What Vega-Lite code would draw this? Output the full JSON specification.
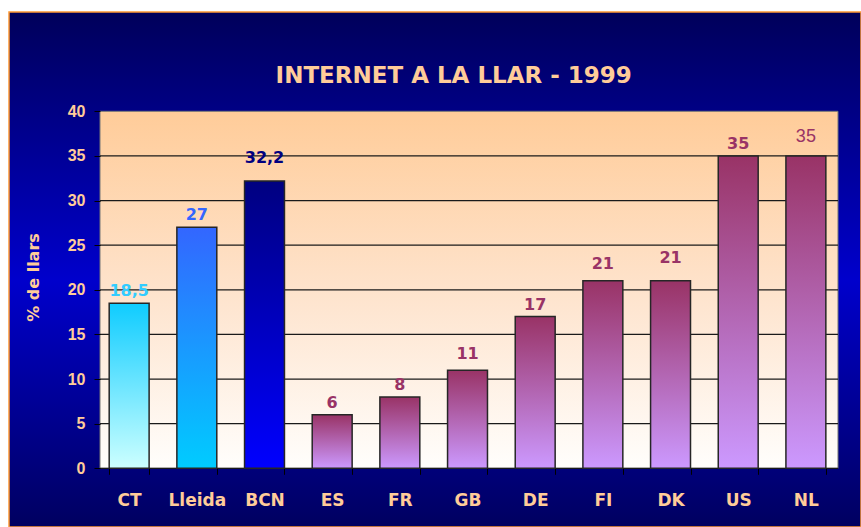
{
  "$schema": "https://vega.github.io/schema/vega-lite/v6.json",
  "width": 852,
  "height": 515,
  "autosize": {"type": "none"},
  "padding": {"left": 9, "top": 12, "right": 0, "bottom": 0},
  "background": "white",
  "view": {
    "fill": {"gradient": "linear", "x1": 0, "y1": 0, "x2": 0, "y2": 1,
      "stops": [{"offset": 0, "color": "#00005a"}, {"offset": 0.52, "color": "#0000cc"}, {"offset": 1, "color": "#000060"}]},
    "stroke": "#ff9933",
    "strokeWidth": 1.5
  },
  "title": {
    "text": "INTERNET A LA LLAR - 1999",
    "font": "DejaVu Sans",
    "fontSize": 23,
    "fontWeight": "bold",
    "color": "#ffcc99",
    "anchor": "middle",
    "frame": "group",
    "baseline": "alphabetic",
    "offset": -93.5,
    "dx": 18.7
  },
  "datasets": {
    "dades": [
      {"regio": "CT", "valor": 18.5, "etiqueta": "18,5"},
      {"regio": "Lleida", "valor": 27, "etiqueta": "27"},
      {"regio": "BCN", "valor": 32.2, "etiqueta": "32,2"},
      {"regio": "ES", "valor": 6, "etiqueta": "6"},
      {"regio": "FR", "valor": 8, "etiqueta": "8"},
      {"regio": "GB", "valor": 11, "etiqueta": "11"},
      {"regio": "DE", "valor": 17, "etiqueta": "17"},
      {"regio": "FI", "valor": 21, "etiqueta": "21"},
      {"regio": "DK", "valor": 21, "etiqueta": "21"},
      {"regio": "US", "valor": 35, "etiqueta": "35"},
      {"regio": "NL", "valor": 35, "etiqueta": "35"}
    ],
    "graella": [
      {"v": 0}, {"v": 5}, {"v": 10}, {"v": 15}, {"v": 20}, {"v": 25}, {"v": 30}, {"v": 35}
    ],
    "area": [{"zona": "plot"}]
  },
  "resolve": {"scale": {"x": "independent"}},
  "layer": [
    {
      "layer": [
        {
          "data": {"name": "area"},
          "mark": {"type": "rect", "stroke": "#777777", "strokeWidth": 1,
            "fill": {"gradient": "linear", "x1": 0, "y1": 0, "x2": 0, "y2": 1,
              "stops": [{"offset": 0, "color": "#ffcc99"}, {"offset": 0.5, "color": "#fee3cc"}, {"offset": 1, "color": "#fffefc"}]}},
          "encoding": {
            "x": {"datum": 0, "type": "quantitative", "scale": {"domain": [-0.12331, 1.03117], "nice": false, "zero": false}, "axis": null},
            "x2": {"datum": 1},
            "y": {"datum": 0, "type": "quantitative",
              "scale": {"domain": [-6.577, 51.126], "nice": false, "zero": false},
              "axis": {"title": "% de llars", "orient": "left", "values": [0, 5, 10, 15, 20, 25, 30, 35, 40], "format": "d", "offset": -91, "domain": false, "grid": false, "tickSize": 6, "tickColor": "black", "tickWidth": 1, "labelFont": "Liberation Sans", "labelFontSize": 16, "labelFontWeight": "bold", "labelColor": "#ffcc99", "labelPadding": 9, "labelFlush": false, "labelOverlap": false, "titleFont": "DejaVu Sans", "titleFontSize": 16, "titleFontWeight": "bold", "titleColor": "#ffcc99", "titlePadding": 26, "titleY": 265, "zindex": 1}},
            "y2": {"datum": 40}
          }
        },
        {
          "data": {"name": "graella"},
          "mark": {"type": "rule", "color": "#1a1a1a", "strokeWidth": 1.2},
          "encoding": {
            "x": {"datum": 0, "type": "quantitative"},
            "x2": {"datum": 1},
            "y": {"field": "v", "type": "quantitative"}
          }
        }
      ]
    },
    {
      "data": {"name": "dades"},
      "encoding": {
        "x": {"field": "regio", "type": "nominal", "sort": null,
          "scale": {"domain": ["CT", "Lleida", "BCN", "ES", "FR", "GB", "DE", "FI", "DK", "US", "NL"], "paddingInner": 0.41, "paddingOuter": 1.0546, "align": 0.74027},
          "axis": {"title": null, "orient": "bottom", "offset": -58.7, "domain": false, "grid": false, "ticks": true, "tickBand": "extent", "tickSize": 6, "tickColor": "black", "tickWidth": 1, "labelFont": "DejaVu Sans", "labelFontSize": 17, "labelFontWeight": "bold", "labelColor": "#ffcc99", "labelPadding": 18, "labelAngle": 0, "labelBaseline": "top", "zindex": 1}},
        "y": {"field": "valor", "type": "quantitative",
          "scale": {"domain": [-6.577, 51.126], "nice": false, "zero": false},
          "axis": {"title": "% de llars", "orient": "left", "values": [0, 5, 10, 15, 20, 25, 30, 35, 40], "format": "d", "offset": -91, "domain": false, "grid": false, "tickSize": 6, "tickColor": "black", "tickWidth": 1, "labelFont": "Liberation Sans", "labelFontSize": 16, "labelFontWeight": "bold", "labelColor": "#ffcc99", "labelPadding": 9, "labelFlush": false, "labelOverlap": false, "titleFont": "DejaVu Sans", "titleFontSize": 16, "titleFontWeight": "bold", "titleColor": "#ffcc99", "titlePadding": 26, "titleY": 265, "zindex": 1}}
      },
      "layer": [
        {
          "transform": [{"filter": "datum.regio === 'CT'"}],
          "mark": {"type": "bar", "stroke": "#262626", "strokeWidth": 1.5,
            "fill": {"gradient": "linear", "x1": 0, "y1": 0, "x2": 0, "y2": 1,
              "stops": [{"offset": 0, "color": "#0fccff"}, {"offset": 1, "color": "#ccffff"}]}},
          "encoding": {"y2": {"datum": 0}}
        },
        {
          "transform": [{"filter": "datum.regio === 'Lleida'"}],
          "mark": {"type": "bar", "stroke": "#262626", "strokeWidth": 1.5,
            "fill": {"gradient": "linear", "x1": 0, "y1": 0, "x2": 0, "y2": 1,
              "stops": [{"offset": 0, "color": "#3366ff"}, {"offset": 1, "color": "#00ccff"}]}},
          "encoding": {"y2": {"datum": 0}}
        },
        {
          "transform": [{"filter": "datum.regio === 'BCN'"}],
          "mark": {"type": "bar", "stroke": "#262626", "strokeWidth": 1.5,
            "fill": {"gradient": "linear", "x1": 0, "y1": 0, "x2": 0, "y2": 1,
              "stops": [{"offset": 0, "color": "#000080"}, {"offset": 1, "color": "#0000ff"}]}},
          "encoding": {"y2": {"datum": 0}}
        },
        {
          "transform": [{"filter": "indexof(['CT','Lleida','BCN'], datum.regio) < 0"}],
          "mark": {"type": "bar", "stroke": "#262626", "strokeWidth": 1.5,
            "fill": {"gradient": "linear", "x1": 0, "y1": 0, "x2": 0, "y2": 1,
              "stops": [{"offset": 0, "color": "#993366"}, {"offset": 1, "color": "#cc99ff"}]}},
          "encoding": {"y2": {"datum": 0}}
        },
        {
          "transform": [{"filter": "indexof(['CT','Lleida','ES','FR','DE','US'], datum.regio) >= 0"}],
          "mark": {"type": "text", "font": "DejaVu Sans", "fontSize": 16, "fontWeight": "bold", "baseline": "alphabetic", "align": "center", "dy": -7},
          "encoding": {
            "text": {"field": "etiqueta"},
            "color": {"field": "regio", "type": "nominal", "legend": null,
              "scale": {"domain": ["CT", "Lleida", "BCN", "ES", "FR", "GB", "DE", "FI", "DK", "US", "NL"],
                "range": ["#33ccff", "#3366ff", "#000080", "#993366", "#993366", "#993366", "#993366", "#993366", "#993366", "#993366", "#993366"]}}
          }
        },
        {
          "transform": [{"filter": "indexof(['GB','FI'], datum.regio) >= 0"}],
          "mark": {"type": "text", "font": "DejaVu Sans", "fontSize": 16, "fontWeight": "bold", "baseline": "alphabetic", "align": "center", "dy": -11.5},
          "encoding": {
            "text": {"field": "etiqueta"},
            "color": {"field": "regio", "type": "nominal", "legend": null}
          }
        },
        {
          "transform": [{"filter": "indexof(['BCN','DK'], datum.regio) >= 0"}],
          "mark": {"type": "text", "font": "DejaVu Sans", "fontSize": 16, "fontWeight": "bold", "baseline": "alphabetic", "align": "center", "dy": -18},
          "encoding": {
            "text": {"field": "etiqueta"},
            "color": {"field": "regio", "type": "nominal", "legend": null}
          }
        },
        {
          "transform": [{"filter": "datum.regio === 'NL'"}],
          "mark": {"type": "text", "font": "Liberation Sans", "fontSize": 18, "fontWeight": "normal", "baseline": "alphabetic", "align": "center", "dy": -14},
          "encoding": {
            "text": {"field": "etiqueta"},
            "color": {"field": "regio", "type": "nominal", "legend": null}
          }
        }
      ]
    }
  ]
}
